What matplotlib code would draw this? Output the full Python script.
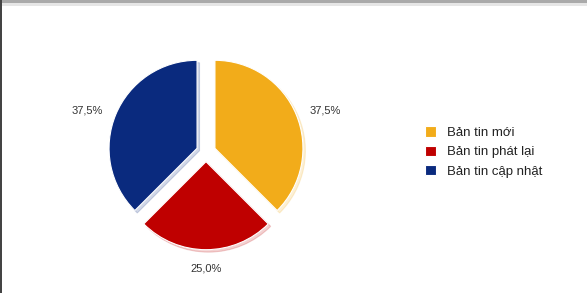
import matplotlib
matplotlib.use("Agg")
import numpy as np
import matplotlib.pyplot as plt
from matplotlib.patches import Rectangle

plt.rcParams['font.family'] = ['Liberation Sans', 'DejaVu Sans']

categories = ["Bản tin mới", "Bản tin phát lại", "Bản tin cập nhật"]
values = [37.5, 25.0, 37.5]
colors = ["#F2AC1A", "#BF0000", "#0A2A7E"]

W, H = 587, 293
fig = plt.figure(figsize=(W / 100, H / 100), dpi=100)
fig.patch.set_facecolor("white")

# pie axes: square box centred on the pie centre
cx, cy = 206, H - 152
half = 130
ax = fig.add_axes([(cx - half) / W, (cy - half) / H, 2 * half / W, 2 * half / H])
R = 88
lim = half / R

def fmt(p):
    return ("%.1f%%" % p).replace(".", ",")

wedges, texts, autotexts = ax.pie(
    values, colors=colors, startangle=90, counterclock=False,
    explode=[0.11, 0.11, 0.11], autopct=fmt, pctdistance=1.16,
    wedgeprops=dict(edgecolor="white", linewidth=0.8),
    shadow=dict(ox=0.02, oy=-0.02, shade=0.0, alpha=0.18),
    textprops=dict(fontsize=8, color="#333333"),
    radius=1.0,
)
# anchor each percentage label by its nearest edge (outside-end style)
for w, t in zip(wedges, autotexts):
    ang = np.deg2rad((w.theta1 + w.theta2) / 2)
    c, s = np.cos(ang), np.sin(ang)
    if abs(c) > 0.5:
        t.set_ha("left" if c > 0 else "right")
        t.set_va("center_baseline")
    else:
        t.set_ha("center")
        t.set_va("top" if s < 0 else "bottom")
    t.set_color("#333333")
ax.set_xlim(-lim, lim)
ax.set_ylim(-lim, lim)
ax.set_aspect("equal")
ax.axis("off")

leg = fig.legend(
    wedges, categories, loc="center left",
    bbox_to_anchor=(425 / W, 1 - 152 / H), frameon=False,
    fontsize=9.5, handlelength=0.8, handleheight=0.8, handletextpad=0.9,
    labelspacing=0.5, borderpad=0, borderaxespad=0,
)
for txt in leg.get_texts():
    txt.set_color("#222222")

# screenshot frame: grey top band and dark left edge
fig.add_artist(Rectangle((0, 1 - 3 / H), 1, 3 / H, transform=fig.transFigure,
                         facecolor="#AAAAAA", edgecolor="none"))
fig.add_artist(Rectangle((0, 1 - 6 / H), 1, 3 / H, transform=fig.transFigure,
                         facecolor="#E6E6E6", edgecolor="none"))
fig.add_artist(Rectangle((0, 0), 1.5 / W, 1, transform=fig.transFigure,
                         facecolor="#444444", edgecolor="none"))

fig.savefig("out.png", dpi=100)
